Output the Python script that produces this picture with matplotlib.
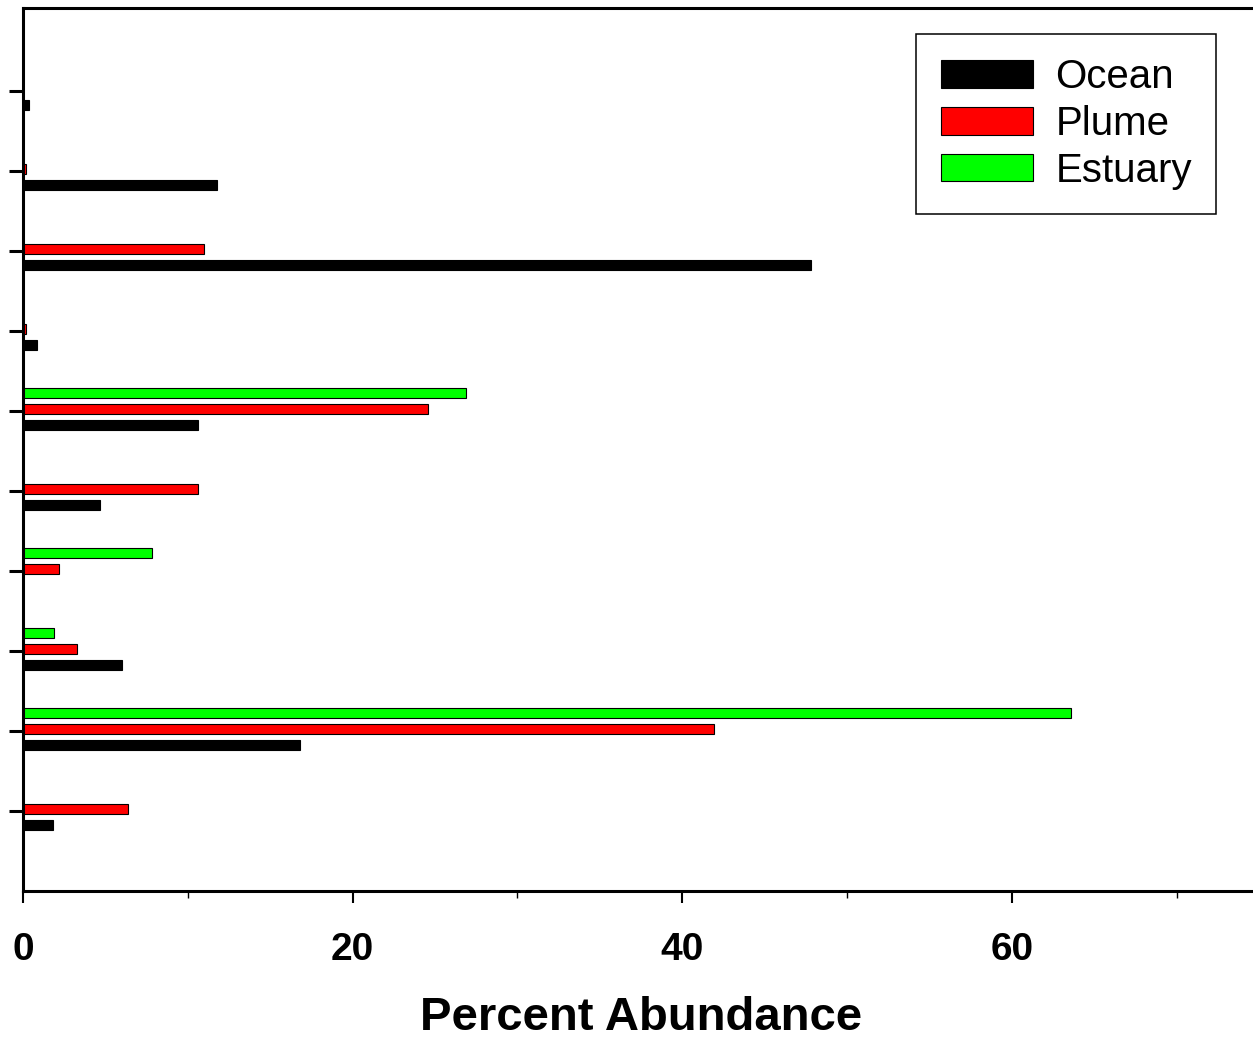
import numpy as np
import matplotlib.pyplot as plt

# Percent abundance of each group (bottom to top) in three water types
groups = np.arange(1, 11)
ocean = [1.8, 16.8, 6.0, 0.0, 4.7, 10.6, 0.85, 47.8, 11.8, 0.35]
plume = [6.4, 41.9, 3.3, 2.2, 10.6, 24.6, 0.2, 11.0, 0.2, 0.0]
estuary = [0.0, 63.6, 1.9, 7.8, 0.0, 26.9, 0.0, 0.0, 0.0, 0.0]

series = [
    ("Ocean", ocean, "black", -0.175),
    ("Plume", plume, "#ff0000", 0.025),
    ("Estuary", estuary, "#00ff00", 0.225),
]

plt.rcParams['font.family'] = ['Liberation Sans', 'DejaVu Sans']

W, H = 1253, 1038
fig = plt.figure(figsize=(W / 100, H / 100), dpi=100)
ax = fig.add_axes([23 / W, (H - 891) / H, 1236 / W, (891 - 8) / H])

for name, vals, color, off in series:
    ax.barh(groups + off, vals, height=0.13, color=color,
            edgecolor="black", linewidth=0.8, label=name)

ax.set_xlim(0, 75)
ax.set_ylim(0, 11.04)
ax.set_yticks(groups)
ax.set_yticklabels([])
ax.set_xticks([0, 20, 40, 60])
ax.set_xticks([10, 30, 50, 70], minor=True)
ax.tick_params(axis='y', direction='out', length=10, width=2.2)
ax.tick_params(axis='x', which='major', direction='out', length=8.6, width=1.5,
               pad=21, labelsize=28)
ax.tick_params(axis='x', which='minor', direction='out', length=5, width=1)
for lab in ax.get_xticklabels():
    lab.set_fontweight('bold')
for sp in ax.spines.values():
    sp.set_linewidth(2.2)

ax.set_xlabel("Percent Abundance", fontsize=34, fontweight='bold', labelpad=20)

leg = ax.legend(loc='upper right', bbox_to_anchor=(1216 / W, 1 - 34 / H),
                bbox_transform=fig.transFigure, borderaxespad=0,
                fontsize=29, handlelength=2.3, handleheight=0.67,
                handletextpad=0.55, labelspacing=0.22, borderpad=0.6,
                fancybox=False, framealpha=1)
leg.get_frame().set_edgecolor("black")
leg.get_frame().set_linewidth(1.1)

fig.savefig("out.png", dpi=100)
